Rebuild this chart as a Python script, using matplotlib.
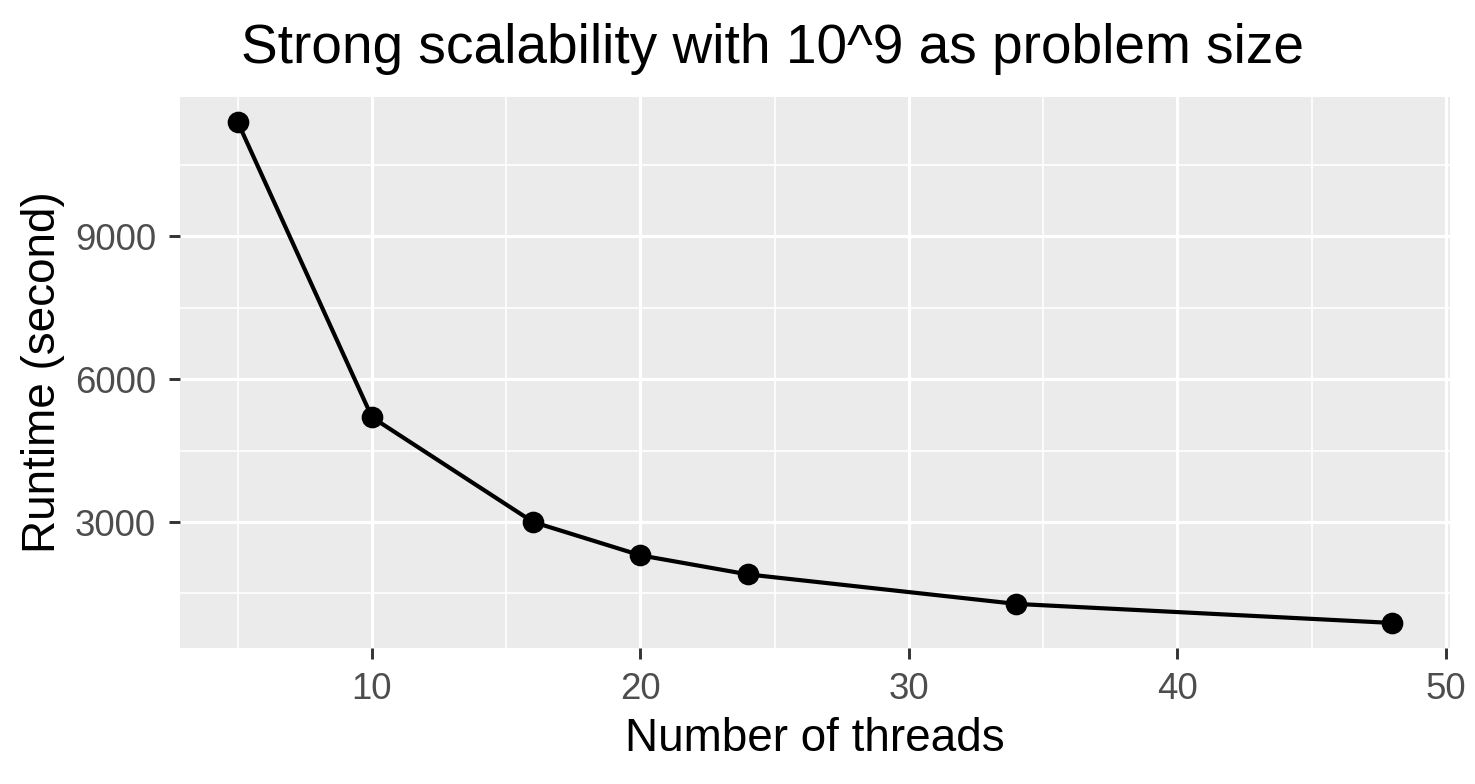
import matplotlib
matplotlib.use("Agg")
import matplotlib.pyplot as plt

threads = [5, 10, 16, 20, 24, 34, 48]
runtime = [11400, 5200, 3000, 2300, 1900, 1280, 880]

xticks = [10, 20, 30, 40, 50]
xminor = [5, 15, 25, 35, 45]
yticks = [3000, 6000, 9000]
yminor = [1500, 4500, 7500, 10500]

plt.rcParams['font.family'] = ['Liberation Sans', 'DejaVu Sans']

W, H = 1475, 784
fig = plt.figure(figsize=(W / 300, H / 300), dpi=300)
ax = fig.add_axes([180 / W, 1 - 648 / H, (1450 - 180) / W, (648 - 97) / H])
ax.set_facecolor('#EBEBEB')

# ggplot-like expansion (5% each side)
xr = max(threads) - min(threads)
yr = max(runtime) - min(runtime)
ax.set_xlim(min(threads) - 0.05 * xr, max(threads) + 0.05 * xr)
ax.set_ylim(min(runtime) - 0.05 * yr, max(runtime) + 0.05 * yr)

ax.set_xticks(xticks)
ax.set_xticks(xminor, minor=True)
ax.set_yticks(yticks)
ax.set_yticks(yminor, minor=True)
ax.set_xticklabels([str(t) for t in xticks])
ax.set_yticklabels([str(t) for t in yticks])

ax.grid(which='major', color='white', linewidth=0.75)
ax.grid(which='minor', color='white', linewidth=0.4)
ax.set_axisbelow(True)
for s in ax.spines.values():
    s.set_visible(False)

ax.tick_params(which='major', length=2.64, width=0.7, color='#333333',
               labelsize=8.8, labelcolor='#4D4D4D', pad=3.1)
ax.tick_params(which='minor', length=0)

ax.plot(threads, runtime, color='black', linewidth=1.0, zorder=3)
ax.plot(threads, runtime, 'o', color='black', markersize=4.2, zorder=4)

fig.text(773 / W, 1 - 63 / H, 'Strong scalability with 10^9 as problem size',
         ha='center', va='baseline', fontsize=13.2)
fig.text(815 / W, 1 - 751 / H, 'Number of threads',
         ha='center', va='baseline', fontsize=11)
fig.text(55 / W, 1 - 372 / H, 'Runtime (second)', rotation=90,
         rotation_mode='anchor', ha='center', va='baseline', fontsize=11)

fig.savefig('out.png', dpi=300)
